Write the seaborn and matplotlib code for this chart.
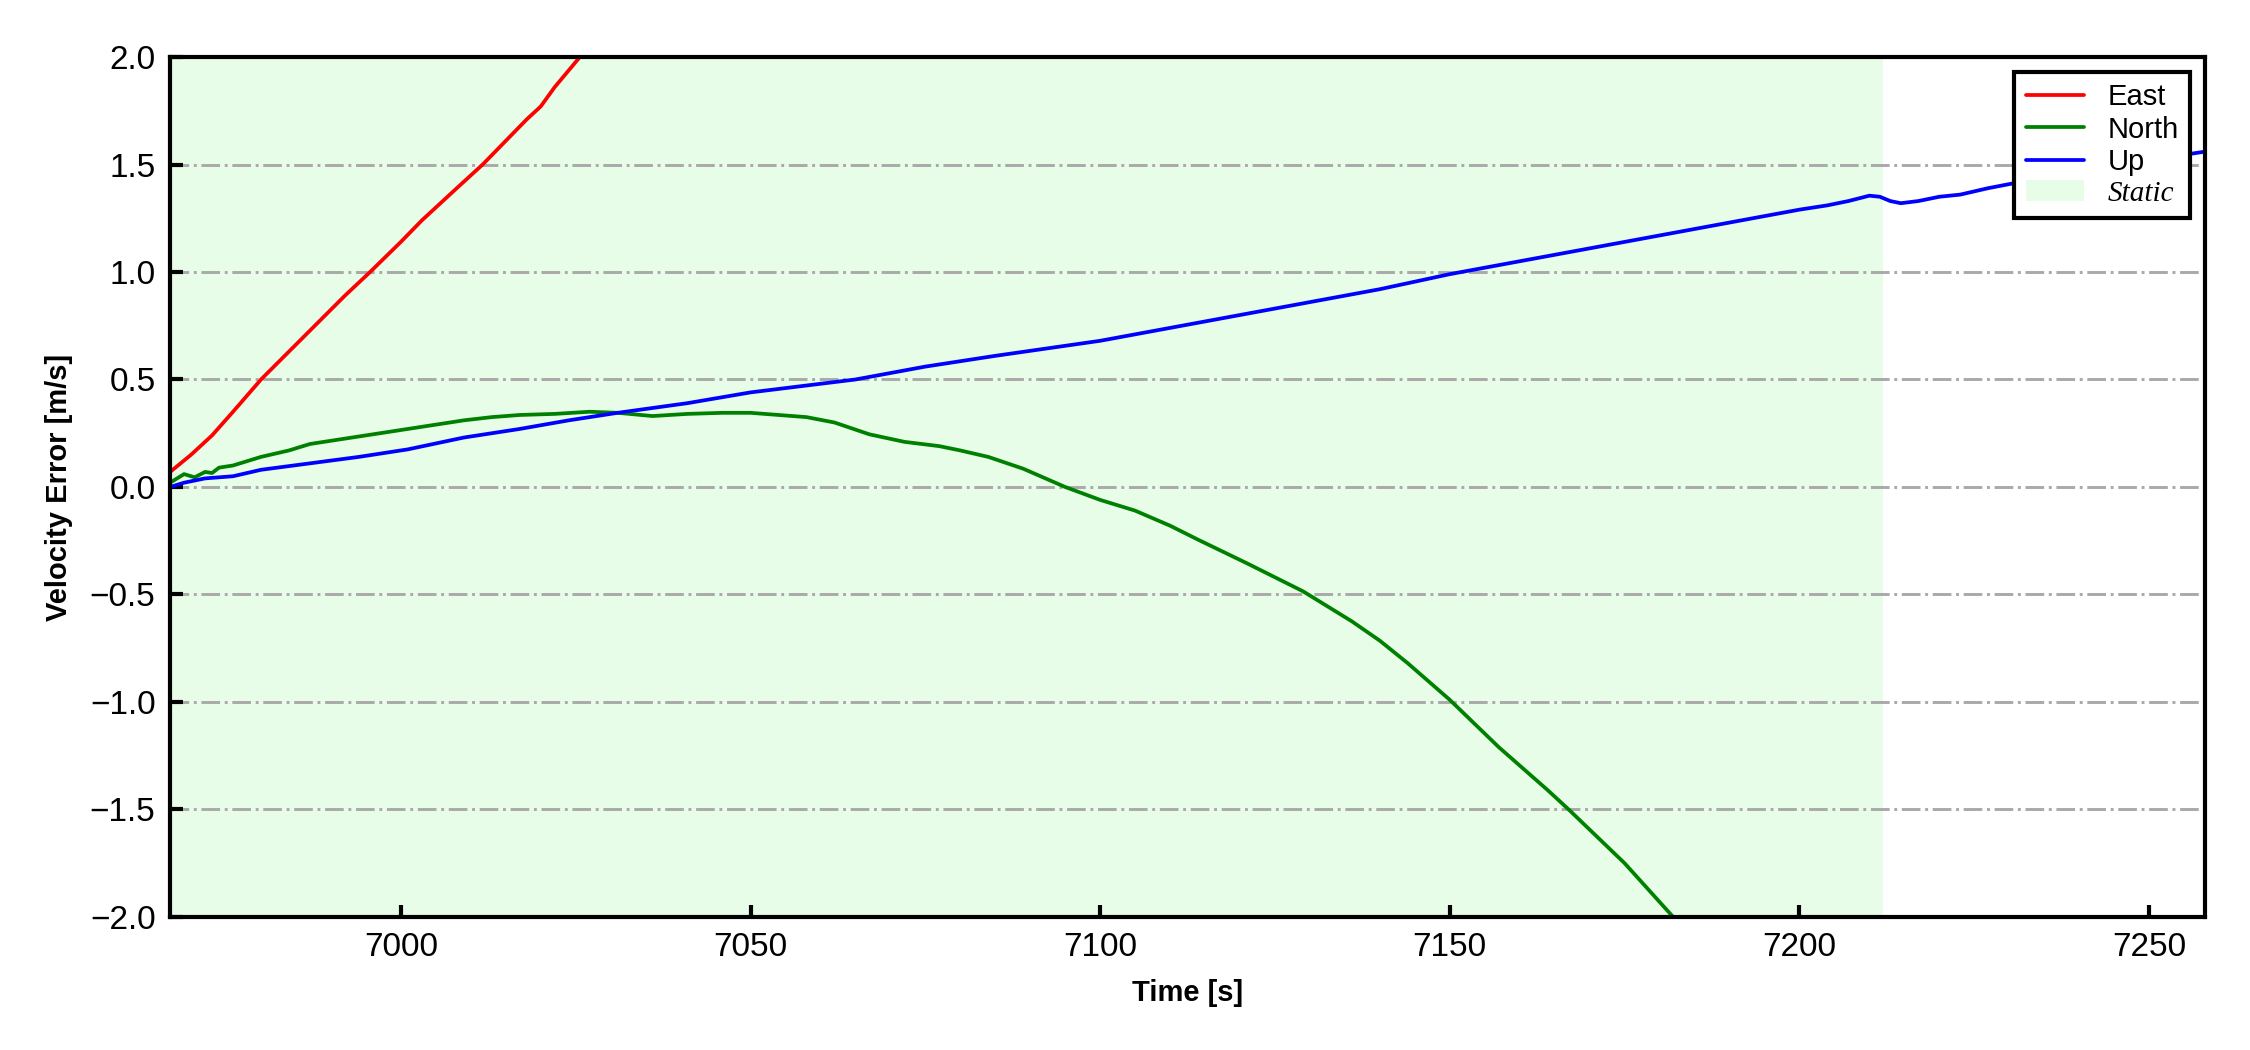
import numpy as np
import pandas as pd
import matplotlib
matplotlib.use("Agg")
import matplotlib.pyplot as plt
from matplotlib.patches import Patch
import seaborn as sns

# values
t_east = [6967, 6970, 6973, 6976, 6980, 6984, 6988, 6992, 6995.6, 7000, 7003, 7006,
          7008, 7011.7, 7015, 7018, 7020, 7022, 7025.6, 7027]
v_east = [0.07, 0.15, 0.24, 0.35, 0.50, 0.63, 0.76, 0.89, 1.00, 1.14, 1.24, 1.33,
          1.39, 1.50, 1.61, 1.71, 1.77, 1.86, 2.00, 2.06]

t_north = [6967, 6969, 6970.5, 6972, 6973, 6974, 6976, 6980, 6984, 6987, 6990, 6994,
           7001, 7005, 7009, 7013, 7017, 7022, 7027, 7031, 7036, 7041, 7046, 7050,
           7054, 7058, 7062, 7067, 7072, 7077, 7080, 7084, 7089, 7095, 7100, 7105,
           7110, 7114, 7121, 7129, 7136, 7140, 7144, 7150, 7157, 7164, 7167, 7175, 7182.5]
v_north = [0.02, 0.06, 0.045, 0.07, 0.065, 0.09, 0.10, 0.14, 0.17, 0.20, 0.215, 0.235,
           0.27, 0.29, 0.31, 0.325, 0.335, 0.34, 0.35, 0.345, 0.33, 0.34, 0.345, 0.345,
           0.335, 0.325, 0.30, 0.245, 0.21, 0.19, 0.17, 0.14, 0.085, 0.0, -0.06, -0.11,
           -0.18, -0.245, -0.355, -0.485, -0.625, -0.715, -0.82, -0.99, -1.21, -1.41, -1.5,
           -1.75, -2.02]

t_up = [6967, 6969, 6972, 6976, 6980, 6987, 6994, 7001, 7009, 7017, 7024, 7031, 7041,
        7050, 7060, 7065, 7075, 7085, 7100, 7110, 7125, 7140, 7150, 7165, 7180, 7190,
        7200, 7204, 7207, 7210, 7211.5, 7213, 7214.5, 7217, 7220, 7223, 7227, 7231,
        7240, 7250, 7258]
v_up = [0.0, 0.02, 0.04, 0.05, 0.08, 0.11, 0.14, 0.175, 0.23, 0.27, 0.31, 0.345, 0.39,
        0.44, 0.48, 0.50, 0.56, 0.61, 0.68, 0.74, 0.83, 0.92, 0.99, 1.08, 1.17, 1.23,
        1.29, 1.31, 1.33, 1.355, 1.35, 1.33, 1.32, 1.33, 1.35, 1.36, 1.39, 1.415,
        1.46, 1.52, 1.56]

static_start, static_end = 6967, 7212
x_ticks = [7000, 7050, 7100, 7150, 7200, 7250]
y_ticks = [-2.0, -1.5, -1.0, -0.5, 0.0, 0.5, 1.0, 1.5, 2.0]

sns.set_style("ticks")
plt.rcParams["font.family"] = ["Liberation Sans", "DejaVu Sans"]
plt.rcParams.update({
    "axes.linewidth": 1.0,
    "axes.edgecolor": "black",
    "axes.labelcolor": "black",
    "text.color": "black",
    "xtick.color": "black",
    "ytick.color": "black",
})

fig, ax = plt.subplots(figsize=(7.5, 3.5), dpi=300)
fig.subplots_adjust(left=0.0756, right=0.98, bottom=0.1267, top=0.9457)

static_color = "#e8fde8"
ax.axvspan(static_start, static_end, color=static_color, lw=0, zorder=0)

sns.lineplot(x=t_east, y=v_east, color="red", lw=0.9, sort=False, estimator=None, ax=ax)
sns.lineplot(x=t_north, y=v_north, color="green", lw=0.9, sort=False, estimator=None, ax=ax)
sns.lineplot(x=t_up, y=v_up, color="blue", lw=0.9, sort=False, estimator=None, ax=ax)

ax.set_xlim(6967, 7258)
ax.set_ylim(-2.0, 2.0)
ax.set_xticks(x_ticks)
ax.set_yticks(y_ticks)
ax.yaxis.grid(True, linestyle="-.", color="darkgray", lw=0.7)
ax.set_axisbelow(True)
ax.tick_params(direction="in", length=3, width=1.0, labelsize=8, color="black",
               labelcolor="black")

ax.set_xlabel("Time [s]", fontsize=7, fontweight="bold")
ax.set_ylabel("Velocity Error [m/s]", fontsize=7, fontweight="bold")

handles = [
    plt.Line2D([], [], color="red", lw=0.9),
    plt.Line2D([], [], color="green", lw=0.9),
    plt.Line2D([], [], color="blue", lw=0.9),
    Patch(facecolor=static_color, edgecolor="none"),
]
leg = ax.legend(handles, ["East", "North", "Up", "Static"], loc="upper right",
                fontsize=7, frameon=True, fancybox=False, framealpha=1,
                edgecolor="black", handlelength=2.0, labelspacing=0.15,
                borderpad=0.4, bbox_to_anchor=(1, 1), borderaxespad=0.5)
leg.get_frame().set_linewidth(1.0)
leg.get_texts()[3].set_fontfamily(["Liberation Serif", "DejaVu Serif"])
leg.get_texts()[3].set_fontstyle("italic")

fig.savefig("out.png", dpi=300)
